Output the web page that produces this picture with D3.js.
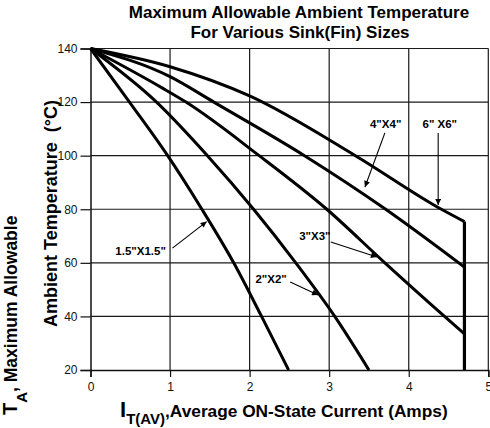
<!DOCTYPE html>
<html><head><meta charset="utf-8">
<script src="https://cdn.jsdelivr.net/npm/d3@7"></script>
<style>
body{margin:0;background:#fff;}
svg{display:block;font-family:"Liberation Sans",Arial,sans-serif;}
</style></head>
<body><svg id="c" width="490" height="428"></svg>
<script>
// ---- data ----
const xTicks = [0,1,2,3,4,5];
const yTicks = [20,40,60,80,100,120,140];
const sinkSizes = ['1.5"X1.5"','2"X2"','3"X3"','4"X4"','6" X6"'];
const curve15 = [[0,140],[0.49,120],[0.97,100],[1.40,80],[1.80,60],[2.15,40],[2.49,20]];
const curve2  = [[0,140],[0.83,120],[1.47,100],[2.05,80],[2.58,60],[3.07,40],[3.50,20]];
const curve3  = [[0,140],[0.90,125.3],[1.20,120],[2.12,100],[2.97,80],[3.70,60],[4.45,40],[4.70,33.5]];
const curve4  = [[0,140],[1.00,129.5],[1.55,120],[2.69,100],[3.71,80],[4.70,58.4]];
const curve6  = [[0,140],[1.00,133.2],[2.00,122.3],[3.33,100],[4.41,80],[4.70,75.4]];
const maxCurrent = [[4.70,75.4],[4.70,20]];
// annotation: label, text anchor point, arrow start, arrow end (data units)
const notes = [
  {label:sinkSizes[0], t:[0.63,62.9], a:[1.03,65.5], b:[1.46,75.4], bg:true},
  {label:sinkSizes[1], t:[2.27,52.4], a:[2.51,52.8], b:[2.86,48.0]},
  {label:sinkSizes[2], t:[2.82,68.5], a:[3.02,67.8], b:[3.60,62.2]},
  {label:sinkSizes[3], t:[3.71,110.3], a:[3.70,108.5], b:[3.45,88.3]},
  {label:sinkSizes[4], t:[4.39,110.3], a:[4.37,108.5], b:[4.37,81.6]}
];

const svg = d3.select("#c");
const x = d3.scaleLinear().domain([0,5]).range([90.5,488.3]);
const y = d3.scaleLinear().domain([20,140]).range([370,48.5]);

// grid
const g = svg.append("g").attr("stroke","#1a1a1a").attr("stroke-width",1.2);
g.selectAll(".vx").data(xTicks.slice(1)).join("line")
  .attr("x1",d=>x(d)).attr("x2",d=>x(d)).attr("y1",y(140)).attr("y2",y(20));
g.selectAll(".hy").data(yTicks.slice(1)).join("line")
  .attr("x1",x(0)).attr("x2",x(5)).attr("y1",d=>y(d)).attr("y2",d=>y(d));

// axes
const ax = svg.append("g").attr("transform",`translate(0,${y(20)})`)
  .call(d3.axisBottom(x).tickValues(xTicks).tickFormat(d3.format("d")).tickSize(7).tickPadding(5));
const ay = svg.append("g").attr("transform",`translate(${x(0)},0)`)
  .call(d3.axisLeft(y).tickValues(yTicks).tickFormat(d3.format("d")).tickSize(10).tickPadding(3));
[ax,ay].forEach(a=>{
  a.select(".domain").attr("stroke","#111").attr("stroke-width",1.5);
  a.selectAll(".tick line").attr("stroke","#111").attr("stroke-width",1.2);
  a.selectAll(".tick text").attr("font-size",12).attr("fill","#111").attr("font-family","Liberation Sans, Arial, sans-serif");
});

// curves
const line = d3.line().x(d=>x(d[0])).y(d=>y(d[1])).curve(d3.curveMonotoneX);
const lineStraight = d3.line().x(d=>x(d[0])).y(d=>y(d[1]));
[curve15,curve2,curve3,curve4,curve6].forEach(c=>{
  svg.append("path").attr("d",line(c))
    .attr("fill","none").attr("stroke","#000").attr("stroke-width",3).attr("stroke-linejoin","round");
});
svg.append("path").attr("d",lineStraight(maxCurrent)).attr("fill","none").attr("stroke","#000").attr("stroke-width",3.2);

// annotations
svg.append("defs").append("marker").attr("id","ah").attr("viewBox","0 0 10 10")
  .attr("refX",10).attr("refY",5).attr("markerWidth",8).attr("markerHeight",6)
  .attr("markerUnits","userSpaceOnUse").attr("orient","auto")
  .append("path").attr("d","M0,0L10,5L0,10z").attr("fill","#000");
notes.forEach(n=>{
  const t = svg.append("text").attr("x",x(n.t[0])).attr("y",y(n.t[1])).attr("text-anchor","middle")
    .attr("font-size",11.5).attr("font-weight","bold").attr("fill","#000").text(n.label);
  if(n.bg){
    const bb = t.node().getBBox();
    svg.insert("rect",()=>t.node()).attr("x",bb.x-2).attr("y",bb.y-1).attr("width",bb.width+4).attr("height",bb.height+2).attr("fill","#fff");
  }
  svg.append("line").attr("x1",x(n.a[0])).attr("y1",y(n.a[1])).attr("x2",x(n.b[0])).attr("y2",y(n.b[1]))
    .attr("stroke","#000").attr("stroke-width",1.1).attr("marker-end","url(#ah)");
});

// titles
svg.append("text").attr("x",299).attr("y",18).attr("text-anchor","middle").attr("font-size",17).attr("font-weight","bold")
  .text("Maximum Allowable Ambient Temperature");
svg.append("text").attr("x",300).attr("y",38).attr("text-anchor","middle").attr("font-size",17).attr("font-weight","bold")
  .text("For Various Sink(Fin) Sizes");

// x axis title
const xt = svg.append("text").attr("x",120).attr("y",417).attr("font-weight","bold").attr("fill","#000");
xt.append("tspan").attr("font-size",22).text("I");
xt.append("tspan").attr("font-size",15).attr("dy",7).text("T(AV)");
xt.append("tspan").attr("font-size",17.3).attr("dy",-7).text(",Average ON-State Current (Amps)");

// y axis title
const yt1 = svg.append("text").attr("transform","translate(17,415) rotate(-90)").attr("font-weight","bold");
yt1.append("tspan").attr("font-size",20).text("T");
yt1.append("tspan").attr("font-size",15).attr("dy",10).text("A");
yt1.append("tspan").attr("font-size",17.5).attr("dy",-10).text(", Maximum Allowable");
svg.append("text").attr("transform","translate(57,327) rotate(-90)").attr("font-weight","bold").attr("font-size",18)
  .attr("xml:space","preserve").text("Ambient Temperature  (°C)");
</script></body></html>
